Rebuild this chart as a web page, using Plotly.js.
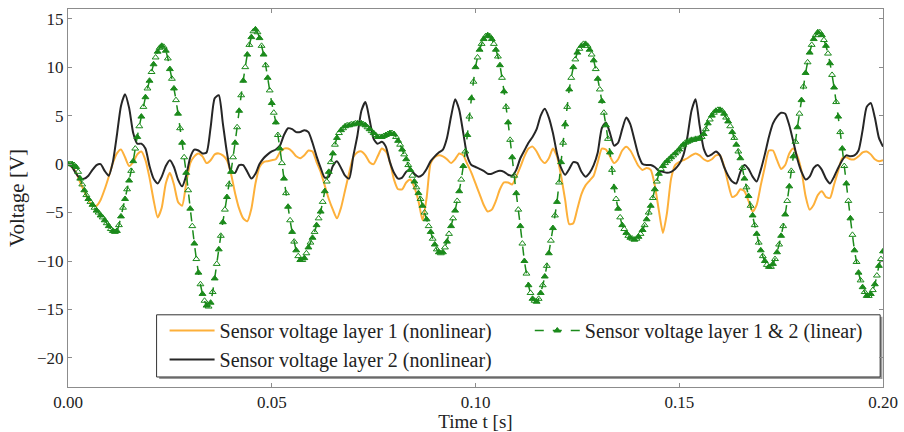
<!DOCTYPE html>
<html>
<head>
<meta charset="utf-8">
<script src="https://cdn.plot.ly/plotly-3.0.1.min.js"></script>
<style>html,body{margin:0;padding:0;background:#fff;}#chart{width:904px;height:432px;}</style>
</head>
<body>
<div id="chart"></div>
<script>
// sample spacing of the recorded signals (seconds)
const sampleStepNonlinear = 0.001;
const sampleStepLinear = 0.0005;

const seriesNames = [
  "Sensor voltage layer 1 (nonlinear)",
  "Sensor voltage layer 2 (nonlinear)",
  "Sensor voltage layer 1 & 2 (linear)"
];

// Sensor voltage layer 1 (nonlinear), V, one value per ms from 0 to 200 ms
const layer1Nonlinear = [
  0, -0.3, -0.9, -1.9, -2.8, -3.7, -4.3, -4.3, -3.7, -2.6,
  -1.3, 0.1, 1.1, 1.5, 0.7, -0.2, 0.2, 1.0, 1.3, 0.4,
  -1.4, -3.7, -5.5, -4.5, -2.0, -0.9, -2.1, -3.9, -4.3, -2.0,
  0.1, 0.8, 1.1, 0.8, 0.1, 0.4, 1.0, 1.1, 0.9, 0.4,
  -1.0, -3.0, -4.6, -5.6, -5.9, -4.6, -2.0, -0.3, 0.2, 0.3,
  0.4, 0.5, 1.2, 1.6, 1.6, 1.3, 0.8, 0.6, 0.9, 1.4,
  1.3, 0.2, -0.8, -2.2, -3.6, -4.7, -5.6, -4.5, -2.7, -0.9,
  0.7, 1.2, 1.3, 0.9, 0.2, 0.0, 0.8, 1.6, 1.3, 0.2,
  -1.6, -2.6, -2.6, -1.9, -1.6, -2.4, -3.8, -5.8, -3.5, 0.1,
  0.7, 0.9, 0.8, 0.5, 0.1, 0.5, 1.1, 0.9, 0.0, -0.9,
  -2.0, -3.1, -4.2, -4.9, -4.7, -3.8, -2.6, -1.9, -1.9, -2.1,
  -1.3, -0.3, 0.8, 1.6, 1.8, 1.3, 0.5, 0.1, 0.6, 1.6,
  0.8, -1.2, -3.7, -6.2, -6.1, -4.6, -3.1, -2.2, -1.7, -1.2,
  0.2, 1.6, 1.5, 0.8, 0.1, 0.5, 1.4, 1.8, 1.4, 0.6,
  -0.2, -0.6, -0.4, -0.6, -2.2, -4.8, -7.1, -5.0, -1.5, -0.1,
  0.2, 0.4, 0.6, 0.9, 1.1, 0.9, 0.5, 0.3, 0.5, 0.9,
  0.9, -0.2, -2.0, -3.4, -3.2, -2.6, -2.8, -3.8, -4.9, -4.2,
  -2.2, -0.3, 1.4, 1.4, 0.4, -0.5, -0.1, 1.1, 1.6, 0.8,
  -0.7, -3.3, -4.7, -4.2, -3.2, -2.8, -3.4, -3.5, -2.1, -0.7,
  0.6, 0.7, 0.5, 0.5, 0.8, 1.2, 1.3, 1.0, 0.5, 0.3,
  0.4
];

// Sensor voltage layer 2 (nonlinear), V, one value per ms
const layer2Nonlinear = [
  0, -0.3, -1.0, -1.5, -1.5, -1.2, -0.6, -0.1, 0.0, -0.7,
  -1.2, 0.2, 3.0, 6.0, 7.2, 5.8, 3.2, 2.1, 2.1, 1.6,
  -0.2, -1.5, -2.0, -1.3, -0.2, 0.4, -0.3, -1.6, -2.3, -1.2,
  0.7, 1.5, 1.4, 1.1, 1.2, 3.8, 6.8, 7.1, 4.2, 1.2,
  -0.8, -0.9, -0.1, -0.1, -0.8, -1.5, -1.0, 0.0, 0.6, 1.0,
  1.3, 1.5, 1.9, 3.0, 3.7, 3.6, 3.3, 3.3, 3.5, 3.3,
  2.2, 0.8, -0.4, -1.4, -1.3, -0.2, 0.3, -0.4, -1.2, -1.5,
  0.8, 2.9, 5.5, 6.4, 4.6, 2.6, 2.1, 2.3, 1.8, 0.2,
  -0.9, -1.5, -1.4, -0.8, -0.6, -1.0, -1.3, -1.1, -0.5, 0.3,
  0.8, 1.2, 1.5, 2.7, 4.9, 6.7, 5.6, 3.2, 0.8, -0.1,
  -0.3, -0.5, -0.7, -1.0, -1.0, -0.8, -0.7, -0.8, -1.1, -1.2,
  -0.6, 0.6, 1.4, 2.2, 2.8, 3.6, 5.0, 5.7, 4.8, 3.2,
  1.1, -0.4, -1.1, -0.5, 0.2, 0.1, -0.8, -1.3, -0.9, -0.1,
  1.2, 3.7, 4.3, 3.2, 1.9, 2.2, 3.6, 4.8, 4.1, 2.5,
  0.9, 0.0, -0.1, -0.1, -0.3, -0.7, -0.8, -0.9, -0.8, -0.5,
  0.0, 0.9, 2.8, 5.5, 6.7, 4.0, 1.6, 0.8, 1.0, 1.3,
  0.9, -0.3, -1.2, -1.8, -2.0, -0.8, -0.1, -0.5, -1.3, -1.8,
  -0.6, 1.0, 2.8, 4.2, 4.9, 5.3, 5.2, 4.0, 2.3, 0.5,
  -0.8, -1.6, -1.3, -0.4, -0.1, -0.6, -1.5, -2.0, -1.3, -0.4,
  0.4, 0.9, 0.8, 0.9, 1.4, 3.5, 5.9, 6.3, 4.8, 2.7,
  1.8
];

// Sensor voltage layer 1 & 2 (linear), V, one value per 0.5 ms
const layersLinear = [
  0, 0, 0, -0.1, -0.3, -0.8, -1.5, -2.1, -2.7, -3.2,
  -3.6, -3.9, -4.2, -4.5, -4.8, -5.0, -5.3, -5.5, -5.8, -6.1,
  -6.4, -6.7, -6.9, -7.0, -6.9, -6.3, -5.4, -4.5, -3.6, -2.6,
  -1.7, -0.7, 0.3, 1.6, 2.8, 3.9, 4.9, 5.9, 6.9, 7.8,
  8.6, 9.5, 10.3, 11.0, 11.6, 12.0, 12.2, 12.1, 11.7, 10.9,
  9.8, 8.8, 7.8, 6.6, 5.2, 3.7, 2.2, 0.7, -0.9, -2.7,
  -4.6, -6.4, -8.2, -9.8, -11.2, -12.4, -13.4, -14.1, -14.6, -14.7,
  -14.3, -13.2, -11.8, -10.3, -8.8, -7.4, -6.0, -4.7, -3.4, -2.1,
  -0.8, 0.7, 2.2, 3.8, 5.5, 7.1, 8.6, 10.0, 11.3, 12.3,
  13.1, 13.7, 13.9, 13.6, 13.0, 12.2, 11.3, 10.2, 8.9, 7.6,
  6.3, 5.3, 4.3, 3.0, 1.6, 0.1, -1.5, -3.0, -4.4, -5.8,
  -7.0, -8.0, -8.9, -9.5, -9.9, -9.9, -9.7, -9.2, -8.6, -8.1,
  -7.6, -7.0, -6.3, -5.6, -4.9, -3.9, -2.8, -1.8, -0.8, 0.2,
  1.1, 2.0, 2.7, 3.2, 3.5, 3.7, 3.9, 4.0, 4.0, 4.1,
  4.1, 4.2, 4.2, 4.2, 4.2, 4.1, 4.0, 3.8, 3.6, 3.4,
  3.2, 3.0, 2.8, 2.8, 2.8, 2.9, 3.0, 3.1, 3.2, 3.2,
  3.1, 2.8, 2.4, 2.0, 1.5, 1.0, 0.5, -0.1, -0.6, -1.2,
  -1.8, -2.4, -3.0, -3.6, -4.3, -5.0, -5.7, -6.4, -7.0, -7.7,
  -8.3, -8.8, -9.1, -9.2, -9.1, -8.6, -8.0, -7.2, -6.4, -5.6,
  -4.8, -3.8, -2.8, -1.6, -0.2, 1.3, 3.0, 4.9, 6.8, 8.5,
  10.0, 11.0, 11.8, 12.4, 12.9, 13.2, 13.3, 13.2, 12.9, 12.4,
  11.8, 11.1, 10.2, 8.9, 7.5, 5.9, 4.3, 2.5, 0.7, -1.2,
  -3.0, -4.7, -6.4, -8.2, -10.0, -11.3, -12.5, -13.3, -13.9, -14.1,
  -14.2, -13.9, -13.3, -12.5, -11.6, -10.5, -9.2, -7.9, -6.6, -5.3,
  -3.9, -1.9, 0.2, 2.2, 4.1, 5.9, 7.7, 8.9, 10.0, 10.8,
  11.5, 11.9, 12.2, 12.4, 12.4, 12.2, 11.8, 11.3, 10.7, 9.8,
  8.8, 7.7, 6.5, 5.3, 4.0, 2.6, 1.2, -0.6, -2.4, -3.6,
  -4.6, -5.5, -6.3, -6.7, -7.1, -7.4, -7.6, -7.7, -7.8, -7.7,
  -7.5, -7.2, -6.8, -6.3, -5.7, -5.0, -4.3, -3.5, -2.6, -1.8,
  -1.0, -0.5, -0.2, 0.1, 0.3, 0.5, 0.7, 0.9, 1.1, 1.3,
  1.5, 1.8, 2.0, 2.2, 2.3, 2.4, 2.5, 2.5, 2.6, 2.6,
  2.7, 2.8, 3.1, 3.6, 4.2, 4.6, 5.0, 5.3, 5.5, 5.6,
  5.6, 5.5, 5.2, 4.8, 4.4, 3.9, 3.3, 2.7, 2.0, 1.3,
  0.6, -0.4, -1.5, -2.4, -3.3, -4.3, -5.3, -6.3, -7.2, -8.1,
  -8.9, -9.5, -10.0, -10.4, -10.6, -10.6, -10.3, -9.8, -9.1, -8.3,
  -7.4, -6.4, -5.2, -3.8, -2.3, -0.7, 0.8, 2.3, 3.8, 5.2,
  6.6, 8.0, 9.4, 10.5, 11.5, 12.3, 12.9, 13.3, 13.6, 13.6,
  13.3, 12.8, 12.2, 11.4, 10.4, 9.2, 7.9, 6.4, 4.9, 3.3,
  1.6, -0.2, -2.0, -3.8, -5.6, -7.3, -8.9, -10.1, -11.2, -12.0,
  -12.7, -13.2, -13.6, -13.6, -13.4, -13.0, -12.4, -11.5, -10.5, -9.8,
  -9.0
];

const xTickVals = [0, 0.05, 0.10, 0.15, 0.20];
const yTickVals = [-20, -15, -10, -5, 0, 5, 10, 15];

const timeNonlinear = layer1Nonlinear.map((_, i) => i * sampleStepNonlinear);
const timeLinear = layersLinear.map((_, i) => i * sampleStepLinear);
const markerSymbols = layersLinear.map((_, i) => (i % 2 === 0 ? "triangle-up" : "triangle-up-open"));

const FONT = "Liberation Serif, 'Times New Roman', serif";
const GREEN = "#1b8a1b";

const traces = [
  {
    x: timeNonlinear, y: layer1Nonlinear, name: seriesNames[0], type: "scatter", mode: "lines",
    line: { color: "#fdb03a", width: 2, shape: "spline", smoothing: 0.6 },
    legend: "legend"
  },
  {
    x: timeNonlinear, y: layer2Nonlinear, name: seriesNames[1], type: "scatter", mode: "lines",
    line: { color: "#262626", width: 2, shape: "spline", smoothing: 0.6 },
    legend: "legend"
  },
  {
    x: timeLinear, y: layersLinear, name: seriesNames[2], type: "scatter", mode: "lines+markers",
    line: { color: GREEN, width: 1.5, dash: "dash", shape: "spline", smoothing: 0.6 },
    marker: { symbol: markerSymbols, size: 6, color: GREEN, line: { color: GREEN, width: 1 } },
    legend: "legend2"
  }
];

const axisCommon = {
  showgrid: false, zeroline: false, showline: true, linecolor: "#8c8c8c", linewidth: 1,
  mirror: "ticks", ticks: "inside", ticklen: 4, tickcolor: "#8c8c8c",
  tickfont: { family: FONT, size: 17, color: "#222" }
};

const legendCommon = {
  orientation: "v", yanchor: "top", xanchor: "left", y: 0.201,
  bgcolor: "rgba(0,0,0,0)", borderwidth: 0, itemwidth: 45,
  font: { family: FONT, size: 20, color: "#222" }, traceorder: "normal"
};

const layout = {
  width: 904, height: 432,
  margin: { l: 68, r: 21, t: 9, b: 45 },
  paper_bgcolor: "#fff", plot_bgcolor: "#fff",
  font: { family: FONT, size: 17, color: "#222" },
  xaxis: Object.assign({}, axisCommon, {
    range: [0, 0.2], tickvals: xTickVals, tickformat: ".2f",
    title: { text: "Time t [s]", font: { family: FONT, size: 19, color: "#222" }, standoff: 3 }
  }),
  yaxis: Object.assign({}, axisCommon, {
    range: [-23, 16], tickvals: yTickVals,
    title: { text: "Voltage [V]", font: { family: FONT, size: 21, color: "#222" }, standoff: 6 }
  }),
  showlegend: true,
  legend: Object.assign({}, legendCommon, { x: 0.1185 }),
  legend2: Object.assign({}, legendCommon, { x: 0.5666 }),
  shapes: [
    { type: "rect", xref: "paper", yref: "paper", x0: 0.1119, x1: 0.9993, y0: 0.0212, y1: 0.1856,
      fillcolor: "#9a9a9a", line: { width: 0 }, layer: "below" },
    { type: "rect", xref: "paper", yref: "paper", x0: 0.1087, x1: 0.9965, y0: 0.0265, y1: 0.1910,
      fillcolor: "#ffffff", line: { color: "#333", width: 1 }, layer: "below" }
  ]
};

Plotly.newPlot("chart", traces, layout, { displayModeBar: false, staticPlot: true });
</script>
</body>
</html>
